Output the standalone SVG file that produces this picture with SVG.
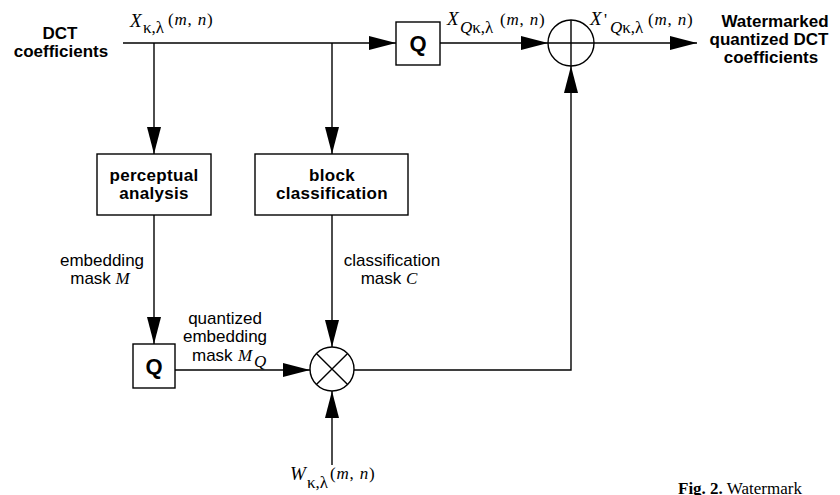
<svg xmlns="http://www.w3.org/2000/svg" width="840" height="495" viewBox="0 0 840 495">
<style>
.ln{fill:none;stroke:#000;stroke-width:1.4}
.bx{fill:#fff;stroke:#000;stroke-width:1.4}
.b{font-family:"Liberation Sans",Arial,sans-serif;font-weight:bold;font-size:17px;fill:#000}
.bb{font-family:"Liberation Sans",Arial,sans-serif;font-weight:bold;font-size:17px;letter-spacing:0.3px;fill:#000}
.q{font-family:"Liberation Sans",Arial,sans-serif;font-weight:bold;font-size:22px;fill:#000}
.t{font-family:"Liberation Sans",Arial,sans-serif;font-size:17px;fill:#000}
.m{font-family:"Liberation Serif","Times New Roman",serif;font-size:17px;fill:#000}
.i{font-style:italic}
</style>
<defs>
<marker id="ah" markerUnits="userSpaceOnUse" markerWidth="28" markerHeight="14" refX="27" refY="7" orient="auto">
<path d="M0,0 L27,7 L0,14 z" fill="#000"/>
</marker>
</defs>
<rect width="840" height="495" fill="#fff"/>

<g id="connectors">
<path class="ln" d="M123,43 H396" marker-end="url(#ah)"/>
<path class="ln" d="M154,43 V154" marker-end="url(#ah)"/>
<path class="ln" d="M332,43 V154" marker-end="url(#ah)"/>
<path class="ln" d="M440,43 H548" marker-end="url(#ah)"/>
<path class="ln" d="M594,43 H697" marker-end="url(#ah)"/>
<path class="ln" d="M154,215 V344" marker-end="url(#ah)"/>
<path class="ln" d="M332,215 V347" marker-end="url(#ah)"/>
<path class="ln" d="M175,370 H310" marker-end="url(#ah)"/>
<path class="ln" d="M332,465 V391" marker-end="url(#ah)"/>
<path class="ln" d="M354,370 H571 V66" marker-end="url(#ah)"/>
</g>

<g id="input-label">
<text class="b" text-anchor="middle"><tspan x="60" y="39">DCT</tspan><tspan x="61" y="57">coefficients</tspan></text>
<text class="m"><tspan class="i" x="130" y="27" font-size="19">X</tspan><tspan x="143" y="33">κ,λ</tspan><tspan x="168" y="25" letter-spacing="0.8">(<tspan class="i">m</tspan>, <tspan class="i">n</tspan>)</tspan></text>
</g>

<g id="quantizer-top">
<rect class="bx" x="396" y="22" width="44" height="43"/>
<text class="q" x="418" y="51" text-anchor="middle">Q</text>
<text class="m"><tspan class="i" x="447" y="25" font-size="19">X</tspan><tspan x="460" y="33"><tspan class="i">Q</tspan>κ,λ</tspan><tspan x="500" y="25" letter-spacing="0.8">(<tspan class="i">m</tspan>, <tspan class="i">n</tspan>)</tspan></text>
</g>

<g id="adder">
<circle class="bx" cx="571" cy="43" r="23"/>
<path class="ln" d="M571,20 V66 M548,43 H594"/>
<text class="m"><tspan class="i" x="590" y="25" font-size="19">X</tspan><tspan x="604" y="25">'</tspan><tspan x="610" y="33"><tspan class="i">Q</tspan>κ,λ</tspan><tspan x="648" y="25" letter-spacing="0.8">(<tspan class="i">m</tspan>, <tspan class="i">n</tspan>)</tspan></text>
</g>

<g id="output-label">
<text class="b" text-anchor="middle"><tspan x="775" y="27">Watermarked</tspan><tspan x="769" y="45">quantized DCT</tspan><tspan x="771" y="63">coefficients</tspan></text>
</g>

<g id="perceptual-analysis">
<rect class="bx" x="97" y="154" width="114" height="61"/>
<text class="bb" text-anchor="middle"><tspan x="154" y="181">perceptual</tspan><tspan x="154" y="199">analysis</tspan></text>
</g>

<g id="block-classification">
<rect class="bx" x="255" y="154" width="153" height="61"/>
<text class="bb" text-anchor="middle"><tspan x="332" y="181">block</tspan><tspan x="332" y="199">classification</tspan></text>
</g>

<g id="embedding-mask-label">
<text class="t" text-anchor="middle"><tspan x="102" y="266">embedding</tspan><tspan x="100" y="284">mask <tspan class="m i" font-size="18">M</tspan></tspan></text>
</g>

<g id="classification-mask-label">
<text class="t" text-anchor="middle"><tspan x="392" y="266">classification</tspan><tspan x="389" y="284">mask <tspan class="m i" font-size="18">C</tspan></tspan></text>
</g>

<g id="quantizer-mask">
<rect class="bx" x="133" y="344" width="42" height="44"/>
<text class="q" x="154" y="374" text-anchor="middle">Q</text>
<text class="t" text-anchor="middle"><tspan x="225" y="324">quantized</tspan><tspan x="225" y="342">embedding</tspan></text>
<text class="t"><tspan x="192" y="361">mask </tspan><tspan class="m i" font-size="18" x="238" y="361">M</tspan><tspan class="m i" x="254" y="367">Q</tspan></text>
</g>

<g id="multiplier">
<circle class="bx" cx="332" cy="369" r="22"/>
<path class="ln" d="M316.4,353.4 L347.6,384.6 M347.6,353.4 L316.4,384.6"/>
</g>

<g id="watermark-label">
<text class="m"><tspan class="i" x="290" y="480" font-size="19">W</tspan><tspan x="307" y="488">κ,λ</tspan><tspan x="330" y="479" letter-spacing="0.8">(<tspan class="i">m</tspan>, <tspan class="i">n</tspan>)</tspan></text>
</g>

<g id="caption">
<text class="m" font-size="21" x="678" y="494"><tspan font-weight="bold">Fig. 2.</tspan> Watermark</text>
</g>
</svg>
